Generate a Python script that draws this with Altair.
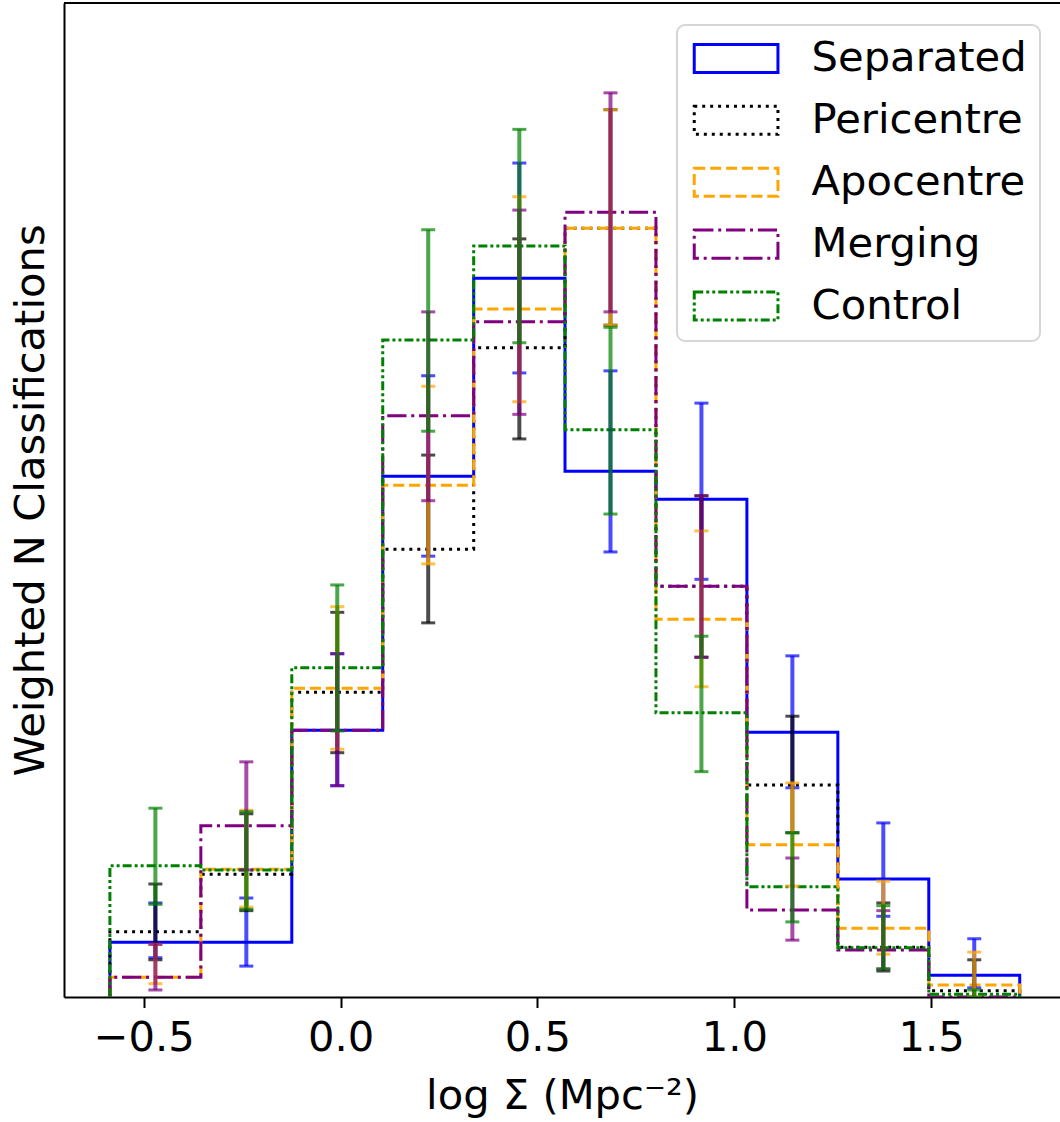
import altair as alt
import pandas as pd

# Samples, in legend order, with their histogram styles
series = ["Separated", "Pericentre", "Apocentre", "Merging", "Control"]
colors = ["blue", "black", "orange", "purple", "green"]
dashes = [[1, 0], [3, 4.95], [11.1, 4.8], [19.2, 4.8, 3, 4.8], [9, 3, 3, 3, 3, 3]]

# log Sigma bin edges (10 bins)
bin_edges = [-0.586, -0.355, -0.124, 0.107, 0.338, 0.570, 0.801, 1.032, 1.263, 1.494, 1.725]

# Weighted (normalised) counts per bin
sep_height = [0.078, 0.078, 0.380, 0.742, 1.024, 0.749, 0.709, 0.377, 0.168, 0.031]
peri_height = [0.093, 0.175, 0.434, 0.638, 0.925, 1.095, 0.585, 0.302, 0.071, 0.009]
apo_height = [0.028, 0.182, 0.440, 0.729, 0.980, 1.095, 0.538, 0.217, 0.098, 0.017]
merg_height = [0.028, 0.244, 0.380, 0.828, 0.962, 1.118, 0.585, 0.124, 0.067, 0.000]
ctrl_height = [0.187, 0.181, 0.469, 0.936, 1.070, 0.808, 0.405, 0.157, 0.070, 0.004]

# Lower / upper ends of the error bars per bin
sep_lo = [0.056, 0.044, 0.301, 0.628, 0.889, 0.634, 0.595, 0.298, 0.115, 0.013]
sep_hi = [0.134, 0.141, 0.489, 0.885, 1.188, 0.892, 0.846, 0.486, 0.248, 0.083]
peri_lo = [0.053, 0.123, 0.348, 0.533, 0.795, 0.957, 0.484, 0.234, 0.037, -0.007]
peri_hi = [0.161, 0.261, 0.548, 0.772, 1.080, 1.264, 0.714, 0.400, 0.134, 0.053]
apo_lo = [0.019, 0.128, 0.353, 0.617, 0.848, 0.957, 0.442, 0.158, 0.061, 0.000]
apo_hi = [0.075, 0.266, 0.556, 0.870, 1.140, 1.264, 0.664, 0.305, 0.165, 0.064]
merg_lo = [0.010, 0.181, 0.301, 0.707, 0.830, 0.976, 0.484, 0.081, 0.040, 0.000]
merg_hi = [0.075, 0.335, 0.489, 0.976, 1.121, 1.288, 0.714, 0.198, 0.123, 0.000]
ctrl_lo = [0.132, 0.125, 0.379, 0.806, 0.932, 0.688, 0.321, 0.107, 0.040, 0.000]
ctrl_hi = [0.269, 0.264, 0.587, 1.093, 1.236, 0.954, 0.514, 0.234, 0.130, 0.010]

heights = [sep_height, peri_height, apo_height, merg_height, ctrl_height]
lows = [sep_lo, peri_lo, apo_lo, merg_lo, ctrl_lo]
highs = [sep_hi, peri_hi, apo_hi, merg_hi, ctrl_hi]

# Step outlines: rise at the first edge, one level per bin, drop at the last edge
step_rows = []
for name, h in zip(series, heights):
    pts = [(bin_edges[0], 0.0)] + [(bin_edges[i], h[i]) for i in range(len(h))] + [(bin_edges[-1], 0.0)]
    for k, (x, y) in enumerate(pts):
        step_rows.append({"series": name, "x": x, "y": y, "k": k})
steps = pd.DataFrame(step_rows)

err_rows = []
for name, lo, hi in zip(series, lows, highs):
    for i in range(len(lo)):
        if hi[i] <= 0:
            continue
        xc = 0.5 * (bin_edges[i] + bin_edges[i + 1])
        err_rows.append({"series": name, "xc": xc, "lo": lo[i], "hi": hi[i]})
errs = pd.DataFrame(err_rows)

W, H = 996, 994
FONT = "DejaVu Sans"
FS = 41.67

xscale = alt.Scale(domain=[-0.7026, 1.8273], nice=False, zero=False)
yscale = alt.Scale(domain=[0, 1.416], nice=False, zero=False)

x_axis = alt.Axis(
    values=[-0.5, 0.0, 0.5, 1.0, 1.5], format=".1f", title="log Σ (Mpc⁻²)",
    tickSize=10.5, tickWidth=2, labelPadding=10.3, titlePadding=16,
)
y_axis = alt.Axis(ticks=False, labels=False, title="Weighted N Classifications", titlePadding=12)

hist = alt.Chart(steps).mark_line(interpolate="step-after", strokeWidth=3, clip=True).encode(
    x=alt.X("x:Q", scale=xscale, axis=x_axis),
    y=alt.Y("y:Q", scale=yscale, axis=y_axis),
    color=alt.Color("series:N", scale=alt.Scale(domain=series, range=colors), title=None),
    strokeDash=alt.StrokeDash("series:N", scale=alt.Scale(domain=series, range=dashes), title=None),
    order=alt.Order("k:Q"),
    detail="series:N",
)

# Error bars (semi-transparent, with caps), drawn sample by sample
err_layers = []
for name, col in zip(series, colors):
    base = alt.Chart(errs).transform_filter(alt.datum.series == name)
    err_layers.append(
        base.mark_rule(strokeWidth=4, opacity=0.7, clip=True, color=col).encode(
            x=alt.X("xc:Q", scale=xscale),
            y=alt.Y("lo:Q", scale=yscale),
            y2="hi:Q",
        )
    )
    err_layers.append(
        base.transform_fold(["lo", "hi"], as_=["end", "val"]).mark_tick(
            orient="horizontal", size=14, thickness=3, opacity=0.7, clip=True, color=col
        ).encode(
            x=alt.X("xc:Q", scale=xscale),
            y=alt.Y("val:Q", scale=yscale),
        )
    )

top_border = alt.Chart(pd.DataFrame({"edge": ["top"]})).mark_rule(color="black", strokeWidth=2).encode(
    x=alt.value(0), x2=alt.value(W), y=alt.value(0)
)

chart = alt.layer(hist, *err_layers, top_border).properties(
    width=W, height=H,
    padding={"left": 64, "top": 3, "right": 0, "bottom": 125},
    autosize=alt.AutoSizeParams(type="none"),
).configure(
    font=FONT,
).configure_view(
    stroke=None,
).configure_axis(
    grid=False,
    domainColor="black", domainWidth=2,
    tickColor="black",
    labelFont=FONT, labelFontSize=FS, labelColor="black",
    titleFont=FONT, titleFontSize=FS, titleFontWeight="normal", titleColor="black",
).configure_legend(
    orient="none", legendX=613, legendY=22,
    padding=12.6, rowPadding=18.9, clipHeight=41.67,
    symbolType="M-1,-0.335H1V0.335H-1Z", symbolSize=7006, symbolStrokeWidth=3,
    symbolFillColor="transparent", symbolOffset=3.0,
    labelFont=FONT, labelFontSize=FS, labelColor="black", labelOffset=32, labelLimit=0,
    fillColor="white", strokeColor="#d6d6d6", strokeWidth=2, cornerRadius=8,
)

chart.save("out.html", embed_options={"renderer": "svg", "actions": False})
